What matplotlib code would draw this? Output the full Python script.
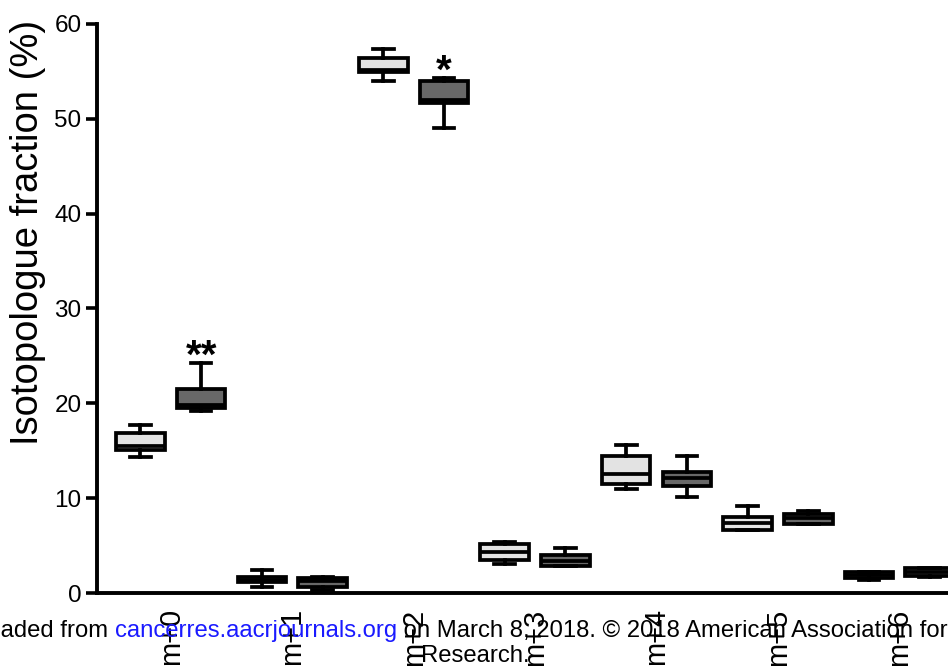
import matplotlib
matplotlib.use("Agg")
import matplotlib.pyplot as plt

plt.rcParams['font.family'] = ['Liberation Sans', 'DejaVu Sans']

# isotopologue labels
labels = ["m+0", "m+1", "m+2", "m+3", "m+4", "m+5", "m+6"]

# light boxes (control): whisker low, q1, median, q3, whisker high
ctl_lo = [14.3, 0.6, 54.0, 3.1, 11.0, 6.6, 1.4]
ctl_q1 = [15.1, 1.2, 54.9, 3.5, 11.5, 6.65, 1.6]
ctl_med = [15.5, 1.4, 55.1, 4.3, 12.6, 7.35, 1.9]
ctl_q3 = [16.9, 1.7, 56.4, 5.15, 14.4, 8.0, 2.25]
ctl_hi = [17.7, 2.4, 57.4, 5.4, 15.6, 9.2, 2.25]

# dark boxes (treated)
trt_lo = [19.2, 0.3, 49.0, 2.85, 10.1, 7.3, 1.7]
trt_q1 = [19.5, 0.6, 51.7, 2.9, 11.3, 7.3, 1.8]
trt_med = [19.8, 1.3, 52.0, 3.4, 12.1, 7.95, 2.2]
trt_q3 = [21.5, 1.6, 54.0, 4.0, 12.8, 8.3, 2.6]
trt_hi = [24.2, 1.7, 54.3, 4.7, 14.4, 8.65, 2.6]

# significance marks on the dark boxes
stars = {0: "**", 2: "*"}


def make_stats(lo, q1, med, q3, hi):
    return [dict(whislo=a, q1=b, med=c, q3=d, whishi=e, fliers=[])
            for a, b, c, d, e in zip(lo, q1, med, q3, hi)]


fig = plt.figure(figsize=(9.48, 6.66), dpi=100)
ax = fig.add_axes([0.102, 0.1096, 0.898, 0.8544])

lw = 2.7
offset = 0.25
width = 0.4

for stats, shift, color in [
        (make_stats(ctl_lo, ctl_q1, ctl_med, ctl_q3, ctl_hi), -offset, "#e3e3e3"),
        (make_stats(trt_lo, trt_q1, trt_med, trt_q3, trt_hi), offset, "#686868")]:
    pos = [i + shift for i in range(len(labels))]
    ax.bxp(stats, positions=pos, widths=width, patch_artist=True,
           showfliers=False, manage_ticks=False,
           boxprops=dict(facecolor=color, edgecolor="black", linewidth=lw),
           medianprops=dict(color="black", linewidth=lw),
           whiskerprops=dict(color="black", linewidth=lw),
           capprops=dict(color="black", linewidth=lw),
           capwidths=0.17)

for i, s in stars.items():
    ax.text(i + offset, trt_hi[i] - 0.5, s, ha="center", va="baseline",
            fontsize=29, fontweight="bold")

ax.set_xlim(-0.61, 6.4)
ax.set_ylim(0, 60)
ax.set_yticks(range(0, 61, 10))
ax.set_xticks(range(len(labels)))
ax.set_xticklabels(labels, rotation=90, fontsize=21)
ax.tick_params(axis="y", labelsize=17.5, width=2.6, length=8, pad=3)
ax.tick_params(axis="x", length=0, pad=11)
ax.set_ylabel("Isotopologue fraction (%)", fontsize=27.5)
ax.yaxis.set_label_coords(-0.060, 0.634)

for side in ["top", "right"]:
    ax.spines[side].set_visible(False)
for side in ["left", "bottom"]:
    ax.spines[side].set_linewidth(2.8)

# watermark line at the bottom, clipped by the figure edges
wm_size = 17.2
blue = fig.text(0.1213, 0.0435, "cancerres.aacrjournals.org", color="#1a1aff",
                fontsize=wm_size, ha="left", va="baseline")
ax.annotate("Downloaded from ", xy=(0, 0), xycoords=blue, ha="right",
            va="bottom", fontsize=wm_size, color="black",
            annotation_clip=False)
ax.annotate(" on March 8, 2018. \u00a9 2018 American Association for Cancer",
            xy=(1, 0), xycoords=blue, ha="left", va="bottom", fontsize=wm_size,
            color="black", annotation_clip=False)
fig.text(0.501, 0.006, "Research.", fontsize=wm_size, ha="center",
         va="baseline")

fig.savefig("out.png", dpi=100)
